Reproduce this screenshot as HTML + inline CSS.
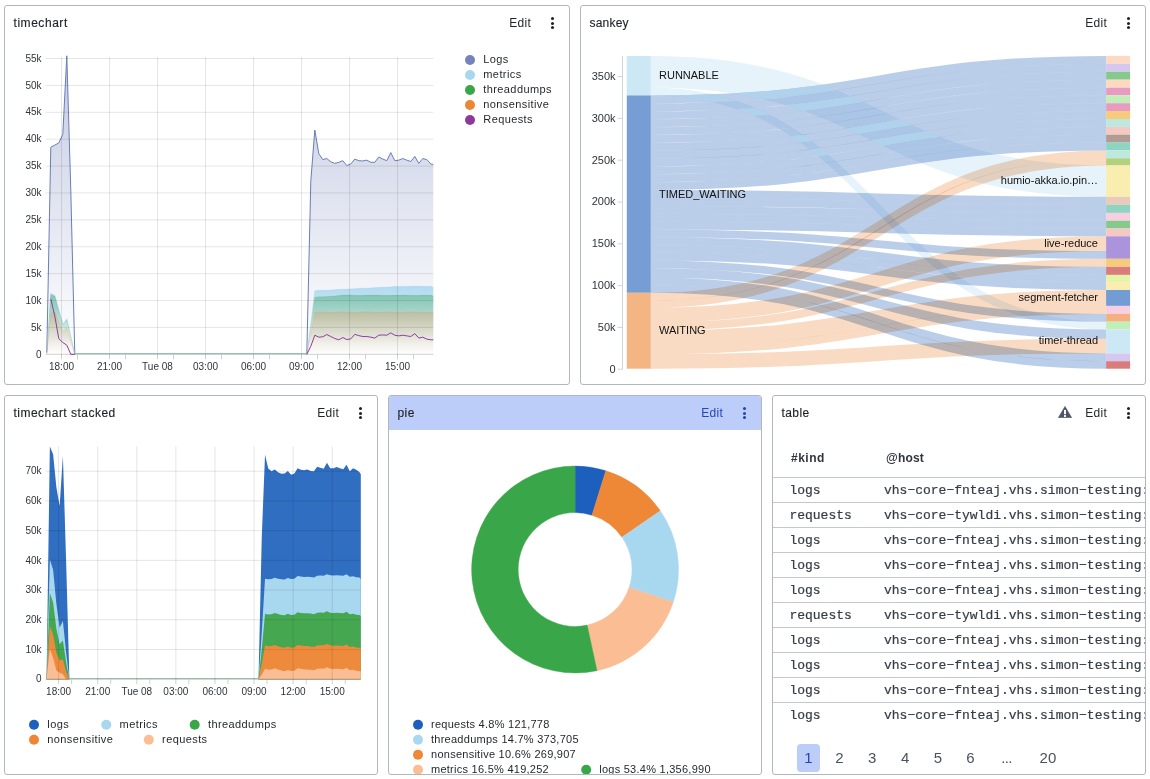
<!DOCTYPE html>
<html><head><meta charset="utf-8"><title>dashboard</title>
<style>
html,body{margin:0;padding:0;background:#fff;}
body{width:1150px;height:779px;position:relative;overflow:hidden;font-family:"Liberation Sans",sans-serif;color:#1f2329;}
.panel{position:absolute;box-sizing:border-box;border:1px solid #b2b7bf;border-radius:3px;background:#fff;overflow:hidden;}
.hdr{position:absolute;left:0;top:0;right:0;height:34px;}
.hdr.sel{background:#bccdfa;}
.title{position:absolute;left:8.5px;top:9px;font-size:12px;line-height:16px;letter-spacing:0.55px;color:#1f2329;white-space:nowrap;-webkit-text-stroke:0.15px #1f2329;}
.edit{position:absolute;right:37.8px;top:9px;font-size:12px;line-height:16px;letter-spacing:0.3px;color:#1f2329;}
.sel .edit{color:#2743b8;}
.dots{position:absolute;right:15.5px;top:11px;width:3px;}
.dots i{display:block;width:3px;height:3px;border-radius:50%;background:#1f2329;margin-bottom:1.5px;}
.sel .dots i{background:#2743b8;}
.warn{position:absolute;right:73px;top:10.4px;}
svg.main{position:absolute;left:0;top:0;}
.ax{font-size:10px;fill:#2f343c;font-family:"Liberation Sans",sans-serif;}
.ax11{font-size:11px;fill:#2f343c;font-family:"Liberation Sans",sans-serif;}
.lg{font-size:11px;fill:#1f2329;letter-spacing:0.4px;font-family:"Liberation Sans",sans-serif;}
.sk{font-size:11px;fill:#111;font-family:"Liberation Sans",sans-serif;}
.th{position:absolute;top:451px;font-size:12px;font-weight:700;line-height:14px;color:#30363f;letter-spacing:0.2px;}
.tr{position:absolute;left:773px;width:372px;height:25px;border-top:1px solid #c3c7ce;box-sizing:border-box;font-family:"Liberation Mono",monospace;font-size:13px;color:#353c47;white-space:nowrap;overflow:hidden;}
.tr span{position:absolute;top:4.8px;line-height:15px;-webkit-text-stroke:0.2px #353c47;}
.c1{left:16.4px;} .c2{left:111px;}
.pg{position:absolute;top:746px;width:30px;text-align:center;font-size:15px;line-height:24px;color:#4a5260;}
.pg.act{left:797px;top:744px;width:23px;height:28px;line-height:28px;background:#bccdfa;border-radius:4px;color:#2743b8;}
</style></head><body>
<div class="panel" style="left:4px;top:5px;width:566px;height:380px"><div class="hdr "><span class="title" style="letter-spacing:0.55px">timechart</span><span class="edit">Edit</span><span class="dots"><i></i><i></i><i></i></span></div></div>
<div class="panel" style="left:580px;top:5px;width:566px;height:380px"><div class="hdr "><span class="title" style="letter-spacing:0.2px">sankey</span><span class="edit">Edit</span><span class="dots"><i></i><i></i><i></i></span></div></div>
<div class="panel" style="left:4px;top:395px;width:374px;height:380px"><div class="hdr "><span class="title" style="letter-spacing:0.48px">timechart stacked</span><span class="edit">Edit</span><span class="dots"><i></i><i></i><i></i></span></div></div>
<div class="panel" style="left:388px;top:395px;width:374px;height:380px"><div class="hdr sel"><span class="title" style="letter-spacing:0.4px">pie</span><span class="edit">Edit</span><span class="dots"><i></i><i></i><i></i></span></div></div>
<div class="panel" style="left:772px;top:395px;width:374px;height:380px"><div class="hdr "><span class="title" style="letter-spacing:0.4px">table</span><svg class="warn" width="14" height="12" viewBox="0 0 14 12"><path d="M7 0.3 L13.8 11.8 L0.2 11.8 Z" fill="#4d5565" stroke="#4d5565" stroke-width="0.4" stroke-linejoin="round"/><rect x="6" y="3.9" width="2" height="4.3" fill="#fff"/><rect x="6" y="9.1" width="2" height="1.8" fill="#fff"/></svg><span class="edit">Edit</span><span class="dots"><i></i><i></i><i></i></span></div></div>
<span class="th" style="left:791px;letter-spacing:0.5px">#kind</span><span class="th" style="left:886px">@host</span>
<div class="tr" style="top:477px"><span class="c1">logs</span><span class="c2">vhs−core−fnteaj.vhs.simon−testing:</span></div>
<div class="tr" style="top:502px"><span class="c1">requests</span><span class="c2">vhs−core−tywldi.vhs.simon−testing:</span></div>
<div class="tr" style="top:527px"><span class="c1">logs</span><span class="c2">vhs−core−fnteaj.vhs.simon−testing:</span></div>
<div class="tr" style="top:552px"><span class="c1">logs</span><span class="c2">vhs−core−fnteaj.vhs.simon−testing:</span></div>
<div class="tr" style="top:577px"><span class="c1">logs</span><span class="c2">vhs−core−fnteaj.vhs.simon−testing:</span></div>
<div class="tr" style="top:602px"><span class="c1">requests</span><span class="c2">vhs−core−tywldi.vhs.simon−testing:</span></div>
<div class="tr" style="top:627px"><span class="c1">logs</span><span class="c2">vhs−core−fnteaj.vhs.simon−testing:</span></div>
<div class="tr" style="top:652px"><span class="c1">logs</span><span class="c2">vhs−core−fnteaj.vhs.simon−testing:</span></div>
<div class="tr" style="top:677px"><span class="c1">logs</span><span class="c2">vhs−core−fnteaj.vhs.simon−testing:</span></div>
<div class="tr" style="top:702px"><span class="c1">logs</span><span class="c2">vhs−core−fnteaj.vhs.simon−testing:</span></div>
<span class="pg act">1</span>
<span class="pg" style="left:824.5px">2</span>
<span class="pg" style="left:857.1px">3</span>
<span class="pg" style="left:890.2px">4</span>
<span class="pg" style="left:922.8px">5</span>
<span class="pg" style="left:955.5px">6</span>
<span class="pg" style="left:991.5px"><span style="letter-spacing:-0.7px">...</span></span>
<span class="pg" style="left:1032.9px">20</span>
<svg class="main" width="1150" height="779" viewBox="0 0 1150 779">
<defs>
<linearGradient id="g1logs" gradientUnits="userSpaceOnUse" x1="0" x2="0" y1="55.82" y2="354.3"><stop offset="0" stop-color="#6b7db8" stop-opacity="0.4"/><stop offset="1" stop-color="#6b7db8" stop-opacity="0.0"/></linearGradient><linearGradient id="g1met" gradientUnits="userSpaceOnUse" x1="0" x2="0" y1="286.13" y2="354.3"><stop offset="0" stop-color="#a5d6f0" stop-opacity="0.85"/><stop offset="0.3" stop-color="#a5d6f0" stop-opacity="0.527"/><stop offset="0.6" stop-color="#a5d6f0" stop-opacity="0.221"/><stop offset="0.85" stop-color="#a5d6f0" stop-opacity="0.051"/><stop offset="1" stop-color="#a5d6f0" stop-opacity="0.0"/></linearGradient><linearGradient id="g1thr" gradientUnits="userSpaceOnUse" x1="0" x2="0" y1="294.6" y2="354.3"><stop offset="0" stop-color="#3fa868" stop-opacity="0.46"/><stop offset="0.3" stop-color="#3fa868" stop-opacity="0.285"/><stop offset="0.6" stop-color="#3fa868" stop-opacity="0.120"/><stop offset="0.85" stop-color="#3fa868" stop-opacity="0.028"/><stop offset="1" stop-color="#3fa868" stop-opacity="0.0"/></linearGradient><linearGradient id="g1non" gradientUnits="userSpaceOnUse" x1="0" x2="0" y1="311.81" y2="354.3"><stop offset="0" stop-color="#ee8a3c" stop-opacity="0.3"/><stop offset="1" stop-color="#ee8a3c" stop-opacity="0.0"/></linearGradient><linearGradient id="g1req" gradientUnits="userSpaceOnUse" x1="0" x2="0" y1="298.91" y2="354.3"><stop offset="0" stop-color="#8e3f9e" stop-opacity="0.0"/><stop offset="0.3" stop-color="#8e3f9e" stop-opacity="0.000"/><stop offset="0.6" stop-color="#8e3f9e" stop-opacity="0.000"/><stop offset="0.85" stop-color="#8e3f9e" stop-opacity="0.000"/><stop offset="1" stop-color="#8e3f9e" stop-opacity="0.0"/></linearGradient><mask id="mR" maskUnits="userSpaceOnUse" x="640" y="40" width="480" height="340"><path d="M650.8,71.77 C878.45,71.77 878.45,181.15 1106.1,181.15" fill="none" stroke="#fff" stroke-width="31.42"/><path d="M650.8,91.47 C878.45,91.47 878.45,325.6 1106.1,325.6" fill="none" stroke="#fff" stroke-width="7.83"/></mask>
<clipPath id="cp4"><rect x="389" y="396" width="372" height="378"/></clipPath>
</defs>
<g id="chart1">
<text x="41.5" y="357.5" text-anchor="end" class="ax">0</text>
<text x="41.5" y="330.61" text-anchor="end" class="ax">5k</text>
<text x="41.5" y="303.72" text-anchor="end" class="ax">10k</text>
<text x="41.5" y="276.83" text-anchor="end" class="ax">15k</text>
<text x="41.5" y="249.94" text-anchor="end" class="ax">20k</text>
<text x="41.5" y="223.05" text-anchor="end" class="ax">25k</text>
<text x="41.5" y="196.16" text-anchor="end" class="ax">30k</text>
<text x="41.5" y="169.27" text-anchor="end" class="ax">35k</text>
<text x="41.5" y="142.38" text-anchor="end" class="ax">40k</text>
<text x="41.5" y="115.49" text-anchor="end" class="ax">45k</text>
<text x="41.5" y="88.6" text-anchor="end" class="ax">50k</text>
<text x="41.5" y="61.71" text-anchor="end" class="ax">55k</text>
<text x="61.5" y="370" text-anchor="middle" class="ax">18:00</text>
<text x="109.5" y="370" text-anchor="middle" class="ax">21:00</text>
<text x="157.5" y="370" text-anchor="middle" class="ax">Tue 08</text>
<text x="205.5" y="370" text-anchor="middle" class="ax">03:00</text>
<text x="253.5" y="370" text-anchor="middle" class="ax">06:00</text>
<text x="301.5" y="370" text-anchor="middle" class="ax">09:00</text>
<text x="349.5" y="370" text-anchor="middle" class="ax">12:00</text>
<text x="397.5" y="370" text-anchor="middle" class="ax">15:00</text>
<polygon points="46.8,354.3 46.8,352.69 50.8,147.25 54.8,145.1 58.8,142.94 62.8,134.34 66.8,55.82 70.8,190.81 74.8,354.3 78.8,354.3 82.8,354.3 86.8,354.3 90.8,354.3 94.8,354.3 98.8,354.3 102.8,354.3 106.8,354.3 110.8,354.3 114.8,354.3 118.8,354.3 122.8,354.3 126.8,354.3 130.8,354.3 134.8,354.3 138.8,354.3 142.8,354.3 146.8,354.3 150.8,354.3 154.8,354.3 158.8,354.3 162.8,354.3 166.8,354.3 170.8,354.3 174.8,354.3 178.8,354.3 182.8,354.3 186.8,354.3 190.8,354.3 194.8,354.3 198.8,354.3 202.8,354.3 206.8,354.3 210.8,354.3 214.8,354.3 218.8,354.3 222.8,354.3 226.8,354.3 230.8,354.3 234.8,354.3 238.8,354.3 242.8,354.3 246.8,354.3 250.8,354.3 254.8,354.3 258.8,354.3 262.8,354.3 266.8,354.3 270.8,354.3 274.8,354.3 278.8,354.3 282.8,354.3 286.8,354.3 290.8,354.3 294.8,354.3 298.8,354.3 302.8,354.3 306.8,354.3 310.8,181.13 314.8,130.04 318.8,153.7 322.8,159.62 326.8,158.54 330.8,161.77 334.8,163.38 338.8,162.31 342.8,160.69 346.8,165.53 350.8,163.92 354.8,159.08 358.8,160.69 362.8,160.96 366.8,160.15 370.8,162.31 374.8,162.31 378.8,156.93 382.8,159.08 386.8,160.69 390.8,152.62 394.8,160.69 398.8,160.15 402.8,158.54 406.8,160.15 410.8,161.5 414.8,156.39 418.8,163.38 422.8,158.54 426.8,159.62 430.8,163.92 433.3,164.46 433.3,354.3" fill="url(#g1logs)"/>
<polyline points="46.8,352.69 50.8,147.25 54.8,145.1 58.8,142.94 62.8,134.34 66.8,55.82 70.8,190.81 74.8,354.3" fill="none" stroke="#6b7db8" stroke-opacity="1" stroke-width="1" stroke-linejoin="round"/>
<polyline points="306.8,354.3 310.8,181.13 314.8,130.04 318.8,153.7 322.8,159.62 326.8,158.54 330.8,161.77 334.8,163.38 338.8,162.31 342.8,160.69 346.8,165.53 350.8,163.92 354.8,159.08 358.8,160.69 362.8,160.96 366.8,160.15 370.8,162.31 374.8,162.31 378.8,156.93 382.8,159.08 386.8,160.69 390.8,152.62 394.8,160.69 398.8,160.15 402.8,158.54 406.8,160.15 410.8,161.5 414.8,156.39 418.8,163.38 422.8,158.54 426.8,159.62 430.8,163.92 433.3,164.46" fill="none" stroke="#6b7db8" stroke-opacity="1" stroke-width="1" stroke-linejoin="round"/>
<polygon points="46.8,354.3 46.8,353.76 50.8,293.53 54.8,295.14 58.8,309.66 62.8,324.18 66.8,318.81 70.8,336.55 74.8,354.3 78.8,354.3 82.8,354.3 86.8,354.3 90.8,354.3 94.8,354.3 98.8,354.3 102.8,354.3 106.8,354.3 110.8,354.3 114.8,354.3 118.8,354.3 122.8,354.3 126.8,354.3 130.8,354.3 134.8,354.3 138.8,354.3 142.8,354.3 146.8,354.3 150.8,354.3 154.8,354.3 158.8,354.3 162.8,354.3 166.8,354.3 170.8,354.3 174.8,354.3 178.8,354.3 182.8,354.3 186.8,354.3 190.8,354.3 194.8,354.3 198.8,354.3 202.8,354.3 206.8,354.3 210.8,354.3 214.8,354.3 218.8,354.3 222.8,354.3 226.8,354.3 230.8,354.3 234.8,354.3 238.8,354.3 242.8,354.3 246.8,354.3 250.8,354.3 254.8,354.3 258.8,354.3 262.8,354.3 266.8,354.3 270.8,354.3 274.8,354.3 278.8,354.3 282.8,354.3 286.8,354.3 290.8,354.3 294.8,354.3 298.8,354.3 302.8,354.3 306.8,354.3 310.8,324.72 314.8,290.84 318.8,290.48 322.8,290.35 326.8,290.34 330.8,290.16 334.8,289.78 338.8,289.45 342.8,289.35 346.8,289.33 350.8,289.12 354.8,288.72 358.8,288.43 362.8,288.36 366.8,288.33 370.8,288.07 374.8,287.67 378.8,287.41 382.8,287.37 386.8,287.31 390.8,287.01 394.8,286.62 398.8,286.4 402.8,286.38 406.8,286.43 410.8,286.3 414.8,286.13 418.8,286.16 422.8,286.35 426.8,286.42 430.8,286.27 433.3,287.61 433.3,354.3" fill="url(#g1met)"/>
<polyline points="46.8,353.76 50.8,293.53 54.8,295.14 58.8,309.66 62.8,324.18 66.8,318.81 70.8,336.55 74.8,354.3" fill="none" stroke="#a5d6f0" stroke-opacity="0.5" stroke-width="1" stroke-linejoin="round"/>
<polyline points="306.8,354.3 310.8,324.72 314.8,290.84 318.8,290.48 322.8,290.35 326.8,290.34 330.8,290.16 334.8,289.78 338.8,289.45 342.8,289.35 346.8,289.33 350.8,289.12 354.8,288.72 358.8,288.43 362.8,288.36 366.8,288.33 370.8,288.07 374.8,287.67 378.8,287.41 382.8,287.37 386.8,287.31 390.8,287.01 394.8,286.62 398.8,286.4 402.8,286.38 406.8,286.43 410.8,286.3 414.8,286.13 418.8,286.16 422.8,286.35 426.8,286.42 430.8,286.27 433.3,287.61" fill="none" stroke="#a5d6f0" stroke-opacity="0.5" stroke-width="1" stroke-linejoin="round"/>
<polygon points="46.8,354.3 46.8,352.15 50.8,294.6 54.8,296.22 58.8,310.74 62.8,325.26 66.8,319.88 70.8,337.09 74.8,354.3 78.8,354.3 82.8,354.3 86.8,354.3 90.8,354.3 94.8,354.3 98.8,354.3 102.8,354.3 106.8,354.3 110.8,354.3 114.8,354.3 118.8,354.3 122.8,354.3 126.8,354.3 130.8,354.3 134.8,354.3 138.8,354.3 142.8,354.3 146.8,354.3 150.8,354.3 154.8,354.3 158.8,354.3 162.8,354.3 166.8,354.3 170.8,354.3 174.8,354.3 178.8,354.3 182.8,354.3 186.8,354.3 190.8,354.3 194.8,354.3 198.8,354.3 202.8,354.3 206.8,354.3 210.8,354.3 214.8,354.3 218.8,354.3 222.8,354.3 226.8,354.3 230.8,354.3 234.8,354.3 238.8,354.3 242.8,354.3 246.8,354.3 250.8,354.3 254.8,354.3 258.8,354.3 262.8,354.3 266.8,354.3 270.8,354.3 274.8,354.3 278.8,354.3 282.8,354.3 286.8,354.3 290.8,354.3 294.8,354.3 298.8,354.3 302.8,354.3 306.8,354.3 310.8,327.41 314.8,297.16 318.8,296.84 322.8,296.65 326.8,296.49 330.8,296.27 334.8,295.92 338.8,295.49 342.8,295.08 346.8,294.99 350.8,295.09 354.8,295.23 358.8,295.3 362.8,295.25 366.8,295.12 370.8,295 374.8,294.99 378.8,295.09 382.8,295.23 386.8,295.3 390.8,295.25 394.8,295.12 398.8,295 402.8,294.99 406.8,295.1 410.8,295.23 414.8,295.3 418.8,295.25 422.8,295.12 426.8,295 430.8,294.99 433.3,295.95 433.3,354.3" fill="url(#g1thr)"/>
<polyline points="46.8,352.15 50.8,294.6 54.8,296.22 58.8,310.74 62.8,325.26 66.8,319.88 70.8,337.09 74.8,354.3" fill="none" stroke="#3fa84f" stroke-opacity="0.15" stroke-width="1" stroke-linejoin="round"/>
<polyline points="306.8,354.3 310.8,327.41 314.8,297.16 318.8,296.84 322.8,296.65 326.8,296.49 330.8,296.27 334.8,295.92 338.8,295.49 342.8,295.08 346.8,294.99 350.8,295.09 354.8,295.23 358.8,295.3 362.8,295.25 366.8,295.12 370.8,295 374.8,294.99 378.8,295.09 382.8,295.23 386.8,295.3 390.8,295.25 394.8,295.12 398.8,295 402.8,294.99 406.8,295.1 410.8,295.23 414.8,295.3 418.8,295.25 422.8,295.12 426.8,295 430.8,294.99 433.3,295.95" fill="none" stroke="#3fa84f" stroke-opacity="0.15" stroke-width="1" stroke-linejoin="round"/>
<polygon points="46.8,354.3 46.8,353.76 50.8,313.43 54.8,311.81 58.8,322.03 62.8,331.71 66.8,327.95 70.8,341.39 74.8,354.3 78.8,354.3 82.8,354.3 86.8,354.3 90.8,354.3 94.8,354.3 98.8,354.3 102.8,354.3 106.8,354.3 110.8,354.3 114.8,354.3 118.8,354.3 122.8,354.3 126.8,354.3 130.8,354.3 134.8,354.3 138.8,354.3 142.8,354.3 146.8,354.3 150.8,354.3 154.8,354.3 158.8,354.3 162.8,354.3 166.8,354.3 170.8,354.3 174.8,354.3 178.8,354.3 182.8,354.3 186.8,354.3 190.8,354.3 194.8,354.3 198.8,354.3 202.8,354.3 206.8,354.3 210.8,354.3 214.8,354.3 218.8,354.3 222.8,354.3 226.8,354.3 230.8,354.3 234.8,354.3 238.8,354.3 242.8,354.3 246.8,354.3 250.8,354.3 254.8,354.3 258.8,354.3 262.8,354.3 266.8,354.3 270.8,354.3 274.8,354.3 278.8,354.3 282.8,354.3 286.8,354.3 290.8,354.3 294.8,354.3 298.8,354.3 302.8,354.3 306.8,354.3 310.8,334.94 314.8,312.08 318.8,311.89 322.8,311.91 326.8,312.12 330.8,312.29 334.8,312.23 338.8,312.02 342.8,311.87 346.8,311.96 350.8,312.18 354.8,312.3 358.8,312.18 362.8,311.96 366.8,311.87 370.8,312.02 374.8,312.24 378.8,312.29 382.8,312.11 386.8,311.91 390.8,311.89 394.8,312.08 398.8,312.28 402.8,312.26 406.8,312.05 410.8,311.88 414.8,311.93 418.8,312.15 422.8,312.3 426.8,312.21 430.8,311.98 433.3,312.89 433.3,354.3" fill="url(#g1non)"/>
<polyline points="46.8,353.76 50.8,313.43 54.8,311.81 58.8,322.03 62.8,331.71 66.8,327.95 70.8,341.39 74.8,354.3" fill="none" stroke="#ee8a3c" stroke-opacity="0.2" stroke-width="1" stroke-linejoin="round"/>
<polyline points="306.8,354.3 310.8,334.94 314.8,312.08 318.8,311.89 322.8,311.91 326.8,312.12 330.8,312.29 334.8,312.23 338.8,312.02 342.8,311.87 346.8,311.96 350.8,312.18 354.8,312.3 358.8,312.18 362.8,311.96 366.8,311.87 370.8,312.02 374.8,312.24 378.8,312.29 382.8,312.11 386.8,311.91 390.8,311.89 394.8,312.08 398.8,312.28 402.8,312.26 406.8,312.05 410.8,311.88 414.8,311.93 418.8,312.15 422.8,312.3 426.8,312.21 430.8,311.98 433.3,312.89" fill="none" stroke="#ee8a3c" stroke-opacity="0.2" stroke-width="1" stroke-linejoin="round"/>
<polyline points="50.8,298.91 54.8,316.12 58.8,338.7 62.8,342.47 66.8,345.16 70.8,354.3 74.8,354.3" fill="none" stroke="#8e3f9e" stroke-width="1" stroke-linejoin="round"/>
<polyline points="306.8,354.3 310.8,346.23 314.8,335.21 318.8,337.17 322.8,336.78 326.8,334.56 330.8,336.52 334.8,338.48 338.8,339.78 342.8,337.56 346.8,339.52 350.8,338.87 354.8,334.3 358.8,335.61 362.8,336.52 366.8,336.52 370.8,337.17 374.8,338.08 378.8,335.21 382.8,334.95 386.8,335.21 390.8,332.87 394.8,335.21 398.8,335.87 402.8,335.21 406.8,335.87 410.8,336.52 414.8,333.65 418.8,338.08 422.8,337.17 426.8,339.13 430.8,339.78 433.3,339.78" fill="none" stroke="#8e3f9e" stroke-width="1" stroke-linejoin="round"/>
<line x1="45.5" x2="433.3" y1="354.3" y2="354.3" stroke="#000" stroke-opacity="0.19" stroke-width="1"/>
<line x1="45.5" x2="433.3" y1="327.41" y2="327.41" stroke="#000" stroke-opacity="0.1" stroke-width="1"/>
<line x1="45.5" x2="433.3" y1="300.52" y2="300.52" stroke="#000" stroke-opacity="0.1" stroke-width="1"/>
<line x1="45.5" x2="433.3" y1="273.63" y2="273.63" stroke="#000" stroke-opacity="0.1" stroke-width="1"/>
<line x1="45.5" x2="433.3" y1="246.74" y2="246.74" stroke="#000" stroke-opacity="0.1" stroke-width="1"/>
<line x1="45.5" x2="433.3" y1="219.85" y2="219.85" stroke="#000" stroke-opacity="0.1" stroke-width="1"/>
<line x1="45.5" x2="433.3" y1="192.96" y2="192.96" stroke="#000" stroke-opacity="0.1" stroke-width="1"/>
<line x1="45.5" x2="433.3" y1="166.07" y2="166.07" stroke="#000" stroke-opacity="0.1" stroke-width="1"/>
<line x1="45.5" x2="433.3" y1="139.18" y2="139.18" stroke="#000" stroke-opacity="0.1" stroke-width="1"/>
<line x1="45.5" x2="433.3" y1="112.29" y2="112.29" stroke="#000" stroke-opacity="0.1" stroke-width="1"/>
<line x1="45.5" x2="433.3" y1="85.4" y2="85.4" stroke="#000" stroke-opacity="0.1" stroke-width="1"/>
<line x1="45.5" x2="433.3" y1="58.51" y2="58.51" stroke="#000" stroke-opacity="0.1" stroke-width="1"/>
<line x1="61.5" x2="61.5" y1="56.8" y2="353.8" stroke="#000" stroke-opacity="0.1" stroke-width="1"/>
<line x1="61.5" x2="61.5" y1="353.8" y2="359.3" stroke="#000" stroke-opacity="0.19" stroke-width="1"/>
<line x1="77.5" x2="77.5" y1="354.8" y2="359.3" stroke="#000" stroke-opacity="0.19" stroke-width="1"/>
<line x1="109.5" x2="109.5" y1="56.8" y2="353.8" stroke="#000" stroke-opacity="0.1" stroke-width="1"/>
<line x1="109.5" x2="109.5" y1="353.8" y2="359.3" stroke="#000" stroke-opacity="0.19" stroke-width="1"/>
<line x1="125.5" x2="125.5" y1="354.8" y2="359.3" stroke="#000" stroke-opacity="0.19" stroke-width="1"/>
<line x1="157.5" x2="157.5" y1="56.8" y2="353.8" stroke="#000" stroke-opacity="0.1" stroke-width="1"/>
<line x1="157.5" x2="157.5" y1="353.8" y2="359.3" stroke="#000" stroke-opacity="0.19" stroke-width="1"/>
<line x1="173.5" x2="173.5" y1="354.8" y2="359.3" stroke="#000" stroke-opacity="0.19" stroke-width="1"/>
<line x1="205.5" x2="205.5" y1="56.8" y2="353.8" stroke="#000" stroke-opacity="0.1" stroke-width="1"/>
<line x1="205.5" x2="205.5" y1="353.8" y2="359.3" stroke="#000" stroke-opacity="0.19" stroke-width="1"/>
<line x1="221.5" x2="221.5" y1="354.8" y2="359.3" stroke="#000" stroke-opacity="0.19" stroke-width="1"/>
<line x1="253.5" x2="253.5" y1="56.8" y2="353.8" stroke="#000" stroke-opacity="0.1" stroke-width="1"/>
<line x1="253.5" x2="253.5" y1="353.8" y2="359.3" stroke="#000" stroke-opacity="0.19" stroke-width="1"/>
<line x1="269.5" x2="269.5" y1="354.8" y2="359.3" stroke="#000" stroke-opacity="0.19" stroke-width="1"/>
<line x1="301.5" x2="301.5" y1="56.8" y2="353.8" stroke="#000" stroke-opacity="0.1" stroke-width="1"/>
<line x1="301.5" x2="301.5" y1="353.8" y2="359.3" stroke="#000" stroke-opacity="0.19" stroke-width="1"/>
<line x1="317.5" x2="317.5" y1="354.8" y2="359.3" stroke="#000" stroke-opacity="0.19" stroke-width="1"/>
<line x1="349.5" x2="349.5" y1="56.8" y2="353.8" stroke="#000" stroke-opacity="0.1" stroke-width="1"/>
<line x1="349.5" x2="349.5" y1="353.8" y2="359.3" stroke="#000" stroke-opacity="0.19" stroke-width="1"/>
<line x1="365.5" x2="365.5" y1="354.8" y2="359.3" stroke="#000" stroke-opacity="0.19" stroke-width="1"/>
<line x1="397.5" x2="397.5" y1="56.8" y2="353.8" stroke="#000" stroke-opacity="0.1" stroke-width="1"/>
<line x1="397.5" x2="397.5" y1="353.8" y2="359.3" stroke="#000" stroke-opacity="0.19" stroke-width="1"/>
<line x1="413.5" x2="413.5" y1="354.8" y2="359.3" stroke="#000" stroke-opacity="0.19" stroke-width="1"/>
<line x1="74.3" x2="307.3" y1="353.7" y2="353.7" stroke="#7db5a0" stroke-width="1"/>
<circle cx="470" cy="60" r="5" fill="#7383bb"/>
<text x="483.3" y="63" class="lg">Logs</text>
<circle cx="470" cy="75" r="5" fill="#a8d8f0"/>
<text x="483.3" y="78" class="lg">metrics</text>
<circle cx="470" cy="90" r="5" fill="#3aa648"/>
<text x="483.3" y="93" class="lg">threaddumps</text>
<circle cx="470" cy="105" r="5" fill="#ee8636"/>
<text x="483.3" y="108" class="lg">nonsensitive</text>
<circle cx="470" cy="120" r="5" fill="#8b3a9c"/>
<text x="483.3" y="123" class="lg">Requests</text>
</g>
<g id="sankey">
<line x1="622.5" x2="622.5" y1="56" y2="369.7" stroke="#d2d4db" stroke-width="1"/>
<line x1="617.5" x2="622.5" y1="369.2" y2="369.2" stroke="#d2d4db" stroke-width="1"/>
<text x="615.6" y="372.6" text-anchor="end" class="ax11">0</text>
<line x1="617.5" x2="622.5" y1="327.4" y2="327.4" stroke="#d2d4db" stroke-width="1"/>
<text x="615.6" y="330.8" text-anchor="end" class="ax11">50k</text>
<line x1="617.5" x2="622.5" y1="285.6" y2="285.6" stroke="#d2d4db" stroke-width="1"/>
<text x="615.6" y="289" text-anchor="end" class="ax11">100k</text>
<line x1="617.5" x2="622.5" y1="243.8" y2="243.8" stroke="#d2d4db" stroke-width="1"/>
<text x="615.6" y="247.2" text-anchor="end" class="ax11">150k</text>
<line x1="617.5" x2="622.5" y1="202" y2="202" stroke="#d2d4db" stroke-width="1"/>
<text x="615.6" y="205.4" text-anchor="end" class="ax11">200k</text>
<line x1="617.5" x2="622.5" y1="160.2" y2="160.2" stroke="#d2d4db" stroke-width="1"/>
<text x="615.6" y="163.6" text-anchor="end" class="ax11">250k</text>
<line x1="617.5" x2="622.5" y1="118.4" y2="118.4" stroke="#d2d4db" stroke-width="1"/>
<text x="615.6" y="121.8" text-anchor="end" class="ax11">300k</text>
<line x1="617.5" x2="622.5" y1="76.6" y2="76.6" stroke="#d2d4db" stroke-width="1"/>
<text x="615.6" y="80" text-anchor="end" class="ax11">350k</text>
<g style="isolation:isolate">
<path d="M650.8,99.35 C878.45,99.35 878.45,59.85 1106.1,59.85" fill="none" stroke="#779ed4" stroke-opacity="0.5" stroke-width="7.9" style="mix-blend-mode:multiply"/>
<path d="M650.8,107.31 C878.45,107.31 878.45,67.8 1106.1,67.8" fill="none" stroke="#779ed4" stroke-opacity="0.5" stroke-width="8" style="mix-blend-mode:multiply"/>
<path d="M650.8,115.26 C878.45,115.26 878.45,75.75 1106.1,75.75" fill="none" stroke="#779ed4" stroke-opacity="0.5" stroke-width="7.9" style="mix-blend-mode:multiply"/>
<path d="M650.8,123.21 C878.45,123.21 878.45,83.7 1106.1,83.7" fill="none" stroke="#779ed4" stroke-opacity="0.5" stroke-width="8" style="mix-blend-mode:multiply"/>
<path d="M650.8,131.02 C878.45,131.02 878.45,91.5 1106.1,91.5" fill="none" stroke="#779ed4" stroke-opacity="0.5" stroke-width="7.6" style="mix-blend-mode:multiply"/>
<path d="M650.8,138.77 C878.45,138.77 878.45,99.25 1106.1,99.25" fill="none" stroke="#779ed4" stroke-opacity="0.5" stroke-width="7.9" style="mix-blend-mode:multiply"/>
<path d="M650.8,146.63 C878.45,146.63 878.45,107.1 1106.1,107.1" fill="none" stroke="#779ed4" stroke-opacity="0.5" stroke-width="7.8" style="mix-blend-mode:multiply"/>
<path d="M650.8,154.53 C878.45,154.53 878.45,115 1106.1,115" fill="none" stroke="#779ed4" stroke-opacity="0.5" stroke-width="8" style="mix-blend-mode:multiply"/>
<path d="M650.8,162.48 C878.45,162.48 878.45,122.95 1106.1,122.95" fill="none" stroke="#779ed4" stroke-opacity="0.5" stroke-width="7.9" style="mix-blend-mode:multiply"/>
<path d="M650.8,170.34 C878.45,170.34 878.45,130.8 1106.1,130.8" fill="none" stroke="#779ed4" stroke-opacity="0.5" stroke-width="7.8" style="mix-blend-mode:multiply"/>
<path d="M650.8,178.19 C878.45,178.19 878.45,138.65 1106.1,138.65" fill="none" stroke="#779ed4" stroke-opacity="0.5" stroke-width="7.9" style="mix-blend-mode:multiply"/>
<path d="M650.8,186.05 C878.45,186.05 878.45,146.5 1106.1,146.5" fill="none" stroke="#779ed4" stroke-opacity="0.5" stroke-width="7.8" style="mix-blend-mode:multiply"/>
<path d="M650.8,296.72 C878.45,296.72 878.45,154.35 1106.1,154.35" fill="none" stroke="#f4b585" stroke-opacity="0.5" stroke-width="7.87" style="mix-blend-mode:multiply"/>
<path d="M650.8,304.22 C878.45,304.22 878.45,161.9 1106.1,161.9" fill="none" stroke="#f4b585" stroke-opacity="0.5" stroke-width="7.18" style="mix-blend-mode:multiply"/>
<path d="M650.8,71.77 C878.45,71.77 878.45,181.15 1106.1,181.15" fill="none" stroke="#cde8f5" stroke-opacity="0.5" stroke-width="31.42" style="mix-blend-mode:multiply"/>
<path d="M650.8,194 C878.45,194 878.45,200.85 1106.1,200.85" fill="none" stroke="#779ed4" stroke-opacity="0.5" stroke-width="8.1" style="mix-blend-mode:multiply"/>
<path d="M650.8,202.05 C878.45,202.05 878.45,208.9 1106.1,208.9" fill="none" stroke="#779ed4" stroke-opacity="0.5" stroke-width="8" style="mix-blend-mode:multiply"/>
<path d="M650.8,209.96 C878.45,209.96 878.45,216.8 1106.1,216.8" fill="none" stroke="#779ed4" stroke-opacity="0.5" stroke-width="7.8" style="mix-blend-mode:multiply"/>
<path d="M650.8,217.76 C878.45,217.76 878.45,224.6 1106.1,224.6" fill="none" stroke="#779ed4" stroke-opacity="0.5" stroke-width="7.8" style="mix-blend-mode:multiply"/>
<path d="M650.8,225.57 C878.45,225.57 878.45,232.4 1106.1,232.4" fill="none" stroke="#779ed4" stroke-opacity="0.5" stroke-width="7.8" style="mix-blend-mode:multiply"/>
<path d="M650.8,315.15 C878.45,315.15 878.45,243.7 1106.1,243.7" fill="none" stroke="#f4b585" stroke-opacity="0.5" stroke-width="14.75" style="mix-blend-mode:multiply"/>
<path d="M650.8,233.32 C878.45,233.32 878.45,254.95 1106.1,254.95" fill="none" stroke="#779ed4" stroke-opacity="0.5" stroke-width="7.7" style="mix-blend-mode:multiply"/>
<path d="M650.8,326.48 C878.45,326.48 878.45,262.8 1106.1,262.8" fill="none" stroke="#f4b585" stroke-opacity="0.5" stroke-width="7.97" style="mix-blend-mode:multiply"/>
<path d="M650.8,241.22 C878.45,241.22 878.45,270.85 1106.1,270.85" fill="none" stroke="#779ed4" stroke-opacity="0.5" stroke-width="8.1" style="mix-blend-mode:multiply"/>
<path d="M650.8,248.93 C878.45,248.93 878.45,278.55 1106.1,278.55" fill="none" stroke="#779ed4" stroke-opacity="0.5" stroke-width="7.3" style="mix-blend-mode:multiply"/>
<path d="M650.8,256.48 C878.45,256.48 878.45,286.1 1106.1,286.1" fill="none" stroke="#779ed4" stroke-opacity="0.5" stroke-width="7.8" style="mix-blend-mode:multiply"/>
<path d="M650.8,338.35 C878.45,338.35 878.45,297.95 1106.1,297.95" fill="none" stroke="#f4b585" stroke-opacity="0.5" stroke-width="15.85" style="mix-blend-mode:multiply"/>
<path d="M650.8,350.22 C878.45,350.22 878.45,309.9 1106.1,309.9" fill="none" stroke="#f4b585" stroke-opacity="0.5" stroke-width="7.97" style="mix-blend-mode:multiply"/>
<path d="M650.8,264.29 C878.45,264.29 878.45,317.8 1106.1,317.8" fill="none" stroke="#779ed4" stroke-opacity="0.5" stroke-width="7.8" style="mix-blend-mode:multiply"/>
<path d="M650.8,91.47 C878.45,91.47 878.45,325.6 1106.1,325.6" fill="none" stroke="#cde8f5" stroke-opacity="0.5" stroke-width="7.83" style="mix-blend-mode:multiply"/>
<path d="M650.8,272.84 C878.45,272.84 878.45,334.15 1106.1,334.15" fill="none" stroke="#779ed4" stroke-opacity="0.5" stroke-width="9.3" style="mix-blend-mode:multiply"/>
<path d="M650.8,361.45 C878.45,361.45 878.45,346.1 1106.1,346.1" fill="none" stroke="#f4b585" stroke-opacity="0.5" stroke-width="14.55" style="mix-blend-mode:multiply"/>
<path d="M650.8,281.39 C878.45,281.39 878.45,357.3 1106.1,357.3" fill="none" stroke="#779ed4" stroke-opacity="0.5" stroke-width="7.8" style="mix-blend-mode:multiply"/>
<path d="M650.8,289.05 C878.45,289.05 878.45,364.95 1106.1,364.95" fill="none" stroke="#779ed4" stroke-opacity="0.5" stroke-width="7.5" style="mix-blend-mode:multiply"/>
</g>
<g mask="url(#mR)">
<path d="M650.8,99.35 C878.45,99.35 878.45,59.85 1106.1,59.85" fill="none" stroke="#b0d2ec" stroke-width="7.9"/>
<path d="M650.8,115.26 C878.45,115.26 878.45,75.75 1106.1,75.75" fill="none" stroke="#b0d2ec" stroke-width="7.9"/>
<path d="M650.8,146.63 C878.45,146.63 878.45,107.1 1106.1,107.1" fill="none" stroke="#b0d2ec" stroke-width="7.8"/>
<path d="M650.8,162.48 C878.45,162.48 878.45,122.95 1106.1,122.95" fill="none" stroke="#b0d2ec" stroke-width="7.9"/>
</g>
<rect x="626.8" y="56.0" width="24.0" height="39.4" fill="#cde8f5"/>
<text x="659" y="78.9" class="sk">RUNNABLE</text>
<rect x="626.8" y="95.4" width="24.0" height="197.4" fill="#779ed4"/>
<text x="659" y="198.2" class="sk">TIMED_WAITING</text>
<rect x="626.8" y="292.8" width="24.0" height="75.9" fill="#f4b585"/>
<text x="659" y="333.95" class="sk">WAITING</text>
<rect x="1106.1" y="55.9" width="24.0" height="7.9" fill="#fcd9c0"/>
<rect x="1106.1" y="63.8" width="24.0" height="8" fill="#d5c8f0"/>
<rect x="1106.1" y="71.8" width="24.0" height="7.9" fill="#85c98d"/>
<rect x="1106.1" y="79.7" width="24.0" height="8" fill="#fcd9c0"/>
<rect x="1106.1" y="87.7" width="24.0" height="7.6" fill="#e79bc0"/>
<rect x="1106.1" y="95.3" width="24.0" height="7.9" fill="#c0f0b8"/>
<rect x="1106.1" y="103.2" width="24.0" height="7.8" fill="#e79bc0"/>
<rect x="1106.1" y="111.0" width="24.0" height="8" fill="#f6cc7c"/>
<rect x="1106.1" y="119.0" width="24.0" height="7.9" fill="#bce8de"/>
<rect x="1106.1" y="126.9" width="24.0" height="7.8" fill="#f4c9c4"/>
<rect x="1106.1" y="134.7" width="24.0" height="7.9" fill="#b09c92"/>
<rect x="1106.1" y="142.6" width="24.0" height="7.8" fill="#8dd5c0"/>
<rect x="1106.1" y="150.4" width="24.0" height="7.9" fill="#bce8de"/>
<rect x="1106.1" y="158.3" width="24.0" height="7.2" fill="#b3d17c"/>
<rect x="1106.1" y="165.5" width="24.0" height="31.3" fill="#faedb0"/>
<rect x="1106.1" y="196.8" width="24.0" height="8.1" fill="#e8cbbb"/>
<rect x="1106.1" y="204.9" width="24.0" height="8" fill="#8dd5c0"/>
<rect x="1106.1" y="212.9" width="24.0" height="7.8" fill="#f8cfe0"/>
<rect x="1106.1" y="220.7" width="24.0" height="7.8" fill="#85c98d"/>
<rect x="1106.1" y="228.5" width="24.0" height="7.8" fill="#f4c9c4"/>
<rect x="1106.1" y="236.3" width="24.0" height="22.5" fill="#ab94dc"/>
<rect x="1106.1" y="258.8" width="24.0" height="8" fill="#f6cc7c"/>
<rect x="1106.1" y="266.8" width="24.0" height="8.1" fill="#d97c7c"/>
<rect x="1106.1" y="274.9" width="24.0" height="7.3" fill="#e4f5a8"/>
<rect x="1106.1" y="282.2" width="24.0" height="7.8" fill="#faedb0"/>
<rect x="1106.1" y="290.0" width="24.0" height="15.9" fill="#739cd5"/>
<rect x="1106.1" y="305.9" width="24.0" height="8" fill="#f8cfe0"/>
<rect x="1106.1" y="313.9" width="24.0" height="7.8" fill="#f4b080"/>
<rect x="1106.1" y="321.7" width="24.0" height="7.8" fill="#c0f0b8"/>
<rect x="1106.1" y="329.5" width="24.0" height="23.9" fill="#cde8f5"/>
<rect x="1106.1" y="353.4" width="24.0" height="7.8" fill="#d5c8f0"/>
<rect x="1106.1" y="361.2" width="24.0" height="7.5" fill="#d97c7c"/>
<text x="1098" y="183.9" text-anchor="end" class="sk">humio-akka.io.pin…</text>
<text x="1098" y="246.9" text-anchor="end" class="sk">live-reduce</text>
<text x="1098" y="300.9" text-anchor="end" class="sk">segment-fetcher</text>
<text x="1098" y="344.09999999999997" text-anchor="end" class="sk">timer-thread</text>
</g>
<g id="chart3">
<text x="41.5" y="682.4" text-anchor="end" class="ax">0</text>
<text x="41.5" y="652.69" text-anchor="end" class="ax">10k</text>
<text x="41.5" y="622.98" text-anchor="end" class="ax">20k</text>
<text x="41.5" y="593.27" text-anchor="end" class="ax">30k</text>
<text x="41.5" y="563.56" text-anchor="end" class="ax">40k</text>
<text x="41.5" y="533.85" text-anchor="end" class="ax">50k</text>
<text x="41.5" y="504.14" text-anchor="end" class="ax">60k</text>
<text x="41.5" y="474.43" text-anchor="end" class="ax">70k</text>
<text x="58.6" y="695.2" text-anchor="middle" class="ax">18:00</text>
<text x="97.69" y="695.2" text-anchor="middle" class="ax">21:00</text>
<text x="136.78" y="695.2" text-anchor="middle" class="ax">Tue 08</text>
<text x="175.87" y="695.2" text-anchor="middle" class="ax">03:00</text>
<text x="214.96" y="695.2" text-anchor="middle" class="ax">06:00</text>
<text x="254.05" y="695.2" text-anchor="middle" class="ax">09:00</text>
<text x="293.14" y="695.2" text-anchor="middle" class="ax">12:00</text>
<text x="332.23" y="695.2" text-anchor="middle" class="ax">15:00</text>
<polygon points="46.6,679.2 46.6,676.23 49.86,446.4 53.12,454.3 56.38,487.27 59.64,505.99 62.9,456.08 66.16,562.44 69.42,679.2 72.68,679.2 75.94,679.2 79.2,679.2 82.46,679.2 85.72,679.2 88.98,679.2 92.24,679.2 95.5,679.2 98.76,679.2 102.02,679.2 105.28,679.2 108.54,679.2 111.8,679.2 115.06,679.2 118.32,679.2 121.58,679.2 124.84,679.2 128.1,679.2 131.36,679.2 134.62,679.2 137.88,679.2 141.14,679.2 144.4,679.2 147.66,679.2 150.92,679.2 154.18,679.2 157.44,679.2 160.7,679.2 163.96,679.2 167.22,679.2 170.48,679.2 173.74,679.2 177,679.2 180.26,679.2 183.52,679.2 186.78,679.2 190.04,679.2 193.3,679.2 196.56,679.2 199.82,679.2 203.08,679.2 206.34,679.2 209.6,679.2 212.86,679.2 216.12,679.2 219.38,679.2 222.64,679.2 225.9,679.2 229.16,679.2 232.42,679.2 235.68,679.2 238.94,679.2 242.2,679.2 245.46,679.2 248.72,679.2 251.98,679.2 255.24,679.2 258.5,679.2 261.76,537.19 265.02,454.82 268.28,468.49 271.54,471.37 274.8,469.58 278.06,472.31 281.32,473.86 284.58,473.44 287.84,470.96 291.1,474.71 294.36,473.51 297.62,468.24 300.88,469.66 304.14,470.13 307.4,469.54 310.66,470.97 313.92,471.37 317.18,466.75 320.44,467.76 323.7,468.68 326.96,462.73 330.22,468.29 333.48,468.28 336.74,467 340,468.22 343.26,469.24 346.52,464.8 349.78,471.22 353.04,468.16 356.3,469.76 359.56,472.28 360.8,474.35 360.8,679.2" fill="#2f6ec0"/>
<polygon points="46.6,679.2 46.6,677.12 49.86,559.47 53.12,569.87 56.38,604.03 59.64,627.5 62.9,620.97 66.16,652.76 69.42,679.2 72.68,679.2 75.94,679.2 79.2,679.2 82.46,679.2 85.72,679.2 88.98,679.2 92.24,679.2 95.5,679.2 98.76,679.2 102.02,679.2 105.28,679.2 108.54,679.2 111.8,679.2 115.06,679.2 118.32,679.2 121.58,679.2 124.84,679.2 128.1,679.2 131.36,679.2 134.62,679.2 137.88,679.2 141.14,679.2 144.4,679.2 147.66,679.2 150.92,679.2 154.18,679.2 157.44,679.2 160.7,679.2 163.96,679.2 167.22,679.2 170.48,679.2 173.74,679.2 177,679.2 180.26,679.2 183.52,679.2 186.78,679.2 190.04,679.2 193.3,679.2 196.56,679.2 199.82,679.2 203.08,679.2 206.34,679.2 209.6,679.2 212.86,679.2 216.12,679.2 219.38,679.2 222.64,679.2 225.9,679.2 229.16,679.2 232.42,679.2 235.68,679.2 238.94,679.2 242.2,679.2 245.46,679.2 248.72,679.2 251.98,679.2 255.24,679.2 258.5,679.2 261.76,632.85 265.02,578.71 268.28,579.31 271.54,578.92 274.8,577.72 278.06,578.68 281.32,579.33 284.58,579.51 287.84,577.92 291.1,578.99 294.36,578.69 297.62,576.09 300.88,576.62 304.14,576.94 307.4,576.8 310.66,577.03 313.92,577.43 317.18,575.79 320.44,575.6 323.7,575.64 326.96,574.14 330.22,575.25 333.48,575.53 336.74,575.15 340,575.47 343.26,575.75 346.52,574.13 349.78,576.69 353.04,576.3 356.3,577.31 359.56,577.45 360.8,579.23 360.8,679.2" fill="#a8d8f0"/>
<polygon points="46.6,679.2 46.6,677.42 49.86,593.04 53.12,602.55 56.38,628.69 59.64,644.14 62.9,640.58 66.16,662.56 69.42,679.2 72.68,679.2 75.94,679.2 79.2,679.2 82.46,679.2 85.72,679.2 88.98,679.2 92.24,679.2 95.5,679.2 98.76,679.2 102.02,679.2 105.28,679.2 108.54,679.2 111.8,679.2 115.06,679.2 118.32,679.2 121.58,679.2 124.84,679.2 128.1,679.2 131.36,679.2 134.62,679.2 137.88,679.2 141.14,679.2 144.4,679.2 147.66,679.2 150.92,679.2 154.18,679.2 157.44,679.2 160.7,679.2 163.96,679.2 167.22,679.2 170.48,679.2 173.74,679.2 177,679.2 180.26,679.2 183.52,679.2 186.78,679.2 190.04,679.2 193.3,679.2 196.56,679.2 199.82,679.2 203.08,679.2 206.34,679.2 209.6,679.2 212.86,679.2 216.12,679.2 219.38,679.2 222.64,679.2 225.9,679.2 229.16,679.2 232.42,679.2 235.68,679.2 238.94,679.2 242.2,679.2 245.46,679.2 248.72,679.2 251.98,679.2 255.24,679.2 258.5,679.2 261.76,649.19 265.02,613.77 268.28,614.57 271.54,614.25 274.8,613.06 278.06,614.11 281.32,614.97 284.58,615.33 287.84,613.8 291.1,614.88 294.36,614.7 297.62,612.32 300.88,613.01 304.14,613.37 307.4,613.24 310.66,613.62 313.92,614.24 317.18,612.74 320.44,612.58 323.7,612.65 326.96,611.31 330.22,612.64 333.48,613.04 336.74,612.67 340,612.97 343.26,613.31 346.52,611.79 349.78,614.34 353.04,613.84 356.3,614.81 359.56,615.04 360.8,616.07 360.8,679.2" fill="#45a851"/>
<polygon points="46.6,679.2 46.6,678.61 49.86,626.02 53.12,634.63 56.38,652.76 59.64,660.19 62.9,659.59 66.16,672.07 69.42,679.2 72.68,679.2 75.94,679.2 79.2,679.2 82.46,679.2 85.72,679.2 88.98,679.2 92.24,679.2 95.5,679.2 98.76,679.2 102.02,679.2 105.28,679.2 108.54,679.2 111.8,679.2 115.06,679.2 118.32,679.2 121.58,679.2 124.84,679.2 128.1,679.2 131.36,679.2 134.62,679.2 137.88,679.2 141.14,679.2 144.4,679.2 147.66,679.2 150.92,679.2 154.18,679.2 157.44,679.2 160.7,679.2 163.96,679.2 167.22,679.2 170.48,679.2 173.74,679.2 177,679.2 180.26,679.2 183.52,679.2 186.78,679.2 190.04,679.2 193.3,679.2 196.56,679.2 199.82,679.2 203.08,679.2 206.34,679.2 209.6,679.2 212.86,679.2 216.12,679.2 219.38,679.2 222.64,679.2 225.9,679.2 229.16,679.2 232.42,679.2 235.68,679.2 238.94,679.2 242.2,679.2 245.46,679.2 248.72,679.2 251.98,679.2 255.24,679.2 258.5,679.2 261.76,664.05 265.02,645.33 268.28,646.31 271.54,646.1 274.8,644.99 278.06,646.17 281.32,647.22 284.58,647.82 287.84,646.51 291.1,647.64 294.36,647.41 297.62,644.95 300.88,645.6 304.14,645.98 307.4,645.94 310.66,646.38 313.92,647 317.18,645.45 320.44,645.21 323.7,645.24 326.96,643.93 330.22,645.34 333.48,645.8 336.74,645.43 340,645.67 343.26,645.94 346.52,644.39 349.78,646.96 353.04,646.53 356.3,647.56 359.56,647.8 360.8,648.3 360.8,679.2" fill="#ee8a3c"/>
<polygon points="46.6,679.2 46.6,678.9 49.86,648.6 53.12,658.11 56.38,670.58 59.64,672.66 62.9,674.15 66.16,679.2 69.42,679.2 72.68,679.2 75.94,679.2 79.2,679.2 82.46,679.2 85.72,679.2 88.98,679.2 92.24,679.2 95.5,679.2 98.76,679.2 102.02,679.2 105.28,679.2 108.54,679.2 111.8,679.2 115.06,679.2 118.32,679.2 121.58,679.2 124.84,679.2 128.1,679.2 131.36,679.2 134.62,679.2 137.88,679.2 141.14,679.2 144.4,679.2 147.66,679.2 150.92,679.2 154.18,679.2 157.44,679.2 160.7,679.2 163.96,679.2 167.22,679.2 170.48,679.2 173.74,679.2 177,679.2 180.26,679.2 183.52,679.2 186.78,679.2 190.04,679.2 193.3,679.2 196.56,679.2 199.82,679.2 203.08,679.2 206.34,679.2 209.6,679.2 212.86,679.2 216.12,679.2 219.38,679.2 222.64,679.2 225.9,679.2 229.16,679.2 232.42,679.2 235.68,679.2 238.94,679.2 242.2,679.2 245.46,679.2 248.72,679.2 251.98,679.2 255.24,679.2 258.5,679.2 261.76,674.74 265.02,668.66 268.28,669.74 271.54,669.52 274.8,668.3 278.06,669.38 281.32,670.46 284.58,671.18 287.84,669.95 291.1,671.03 294.36,670.67 297.62,668.15 300.88,668.87 304.14,669.38 307.4,669.38 310.66,669.74 313.92,670.24 317.18,668.66 320.44,668.51 323.7,668.66 326.96,667.36 330.22,668.66 333.48,669.02 336.74,668.66 340,669.02 343.26,669.38 346.52,667.79 349.78,670.24 353.04,669.74 356.3,670.82 359.56,671.18 360.8,671.18 360.8,679.2" fill="#fbbd94"/>
<line x1="69.42" x2="258.5" y1="678.6" y2="678.6" stroke="#8fcaa6" stroke-width="1"/>
<line x1="45.5" x2="360.8" y1="679.2" y2="679.2" stroke="#000" stroke-opacity="0.19" stroke-width="1"/>
<line x1="45.5" x2="360.8" y1="649.49" y2="649.49" stroke="#000" stroke-opacity="0.1" stroke-width="1"/>
<line x1="45.5" x2="360.8" y1="619.78" y2="619.78" stroke="#000" stroke-opacity="0.1" stroke-width="1"/>
<line x1="45.5" x2="360.8" y1="590.07" y2="590.07" stroke="#000" stroke-opacity="0.1" stroke-width="1"/>
<line x1="45.5" x2="360.8" y1="560.36" y2="560.36" stroke="#000" stroke-opacity="0.1" stroke-width="1"/>
<line x1="45.5" x2="360.8" y1="530.65" y2="530.65" stroke="#000" stroke-opacity="0.1" stroke-width="1"/>
<line x1="45.5" x2="360.8" y1="500.94" y2="500.94" stroke="#000" stroke-opacity="0.1" stroke-width="1"/>
<line x1="45.5" x2="360.8" y1="471.23" y2="471.23" stroke="#000" stroke-opacity="0.1" stroke-width="1"/>
<line x1="58.6" x2="58.6" y1="446.4" y2="678.7" stroke="#000" stroke-opacity="0.1" stroke-width="1"/>
<line x1="58.6" x2="58.6" y1="678.7" y2="684.2" stroke="#000" stroke-opacity="0.19" stroke-width="1"/>
<line x1="71.63" x2="71.63" y1="679.7" y2="684.2" stroke="#000" stroke-opacity="0.19" stroke-width="1"/>
<line x1="97.69" x2="97.69" y1="446.4" y2="678.7" stroke="#000" stroke-opacity="0.1" stroke-width="1"/>
<line x1="97.69" x2="97.69" y1="678.7" y2="684.2" stroke="#000" stroke-opacity="0.19" stroke-width="1"/>
<line x1="110.72" x2="110.72" y1="679.7" y2="684.2" stroke="#000" stroke-opacity="0.19" stroke-width="1"/>
<line x1="136.78" x2="136.78" y1="446.4" y2="678.7" stroke="#000" stroke-opacity="0.1" stroke-width="1"/>
<line x1="136.78" x2="136.78" y1="678.7" y2="684.2" stroke="#000" stroke-opacity="0.19" stroke-width="1"/>
<line x1="149.81" x2="149.81" y1="679.7" y2="684.2" stroke="#000" stroke-opacity="0.19" stroke-width="1"/>
<line x1="175.87" x2="175.87" y1="446.4" y2="678.7" stroke="#000" stroke-opacity="0.1" stroke-width="1"/>
<line x1="175.87" x2="175.87" y1="678.7" y2="684.2" stroke="#000" stroke-opacity="0.19" stroke-width="1"/>
<line x1="188.9" x2="188.9" y1="679.7" y2="684.2" stroke="#000" stroke-opacity="0.19" stroke-width="1"/>
<line x1="214.96" x2="214.96" y1="446.4" y2="678.7" stroke="#000" stroke-opacity="0.1" stroke-width="1"/>
<line x1="214.96" x2="214.96" y1="678.7" y2="684.2" stroke="#000" stroke-opacity="0.19" stroke-width="1"/>
<line x1="227.99" x2="227.99" y1="679.7" y2="684.2" stroke="#000" stroke-opacity="0.19" stroke-width="1"/>
<line x1="254.05" x2="254.05" y1="446.4" y2="678.7" stroke="#000" stroke-opacity="0.1" stroke-width="1"/>
<line x1="254.05" x2="254.05" y1="678.7" y2="684.2" stroke="#000" stroke-opacity="0.19" stroke-width="1"/>
<line x1="267.08" x2="267.08" y1="679.7" y2="684.2" stroke="#000" stroke-opacity="0.19" stroke-width="1"/>
<line x1="293.14" x2="293.14" y1="446.4" y2="678.7" stroke="#000" stroke-opacity="0.1" stroke-width="1"/>
<line x1="293.14" x2="293.14" y1="678.7" y2="684.2" stroke="#000" stroke-opacity="0.19" stroke-width="1"/>
<line x1="306.17" x2="306.17" y1="679.7" y2="684.2" stroke="#000" stroke-opacity="0.19" stroke-width="1"/>
<line x1="332.23" x2="332.23" y1="446.4" y2="678.7" stroke="#000" stroke-opacity="0.1" stroke-width="1"/>
<line x1="332.23" x2="332.23" y1="678.7" y2="684.2" stroke="#000" stroke-opacity="0.19" stroke-width="1"/>
<line x1="345.26" x2="345.26" y1="679.7" y2="684.2" stroke="#000" stroke-opacity="0.19" stroke-width="1"/>
<circle cx="34" cy="724.7" r="5" fill="#1c5fbd"/>
<text x="47.3" y="728.0" class="lg">logs</text>
<circle cx="106.3" cy="724.7" r="5" fill="#a8d8f0"/>
<text x="119.6" y="728.0" class="lg">metrics</text>
<circle cx="194.7" cy="724.7" r="5" fill="#3aa648"/>
<text x="208.0" y="728.0" class="lg">threaddumps</text>
<circle cx="34" cy="739.8" r="5" fill="#ee8636"/>
<text x="47.3" y="743.0999999999999" class="lg">nonsensitive</text>
<circle cx="148.8" cy="739.8" r="5" fill="#fbbd94"/>
<text x="162.10000000000002" y="743.0999999999999" class="lg">requests</text>
</g>
<g id="pie" clip-path="url(#cp4)">
<path d="M575.1,466 A103.5,103.5 0 0 1 605.84,470.67 L592,515.17 A56.9,56.9 0 0 0 575.1,512.6 Z" fill="#1c5fbd" stroke="#1c5fbd" stroke-width="0.4"/>
<path d="M605.84,470.67 A103.5,103.5 0 0 1 660.34,510.79 L621.96,537.22 A56.9,56.9 0 0 0 592,515.17 Z" fill="#ee8736" stroke="#ee8736" stroke-width="0.4"/>
<path d="M660.34,510.79 A103.5,103.5 0 0 1 673.33,602.1 L629.1,587.42 A56.9,56.9 0 0 0 621.96,537.22 Z" fill="#a8d8f0" stroke="#a8d8f0" stroke-width="0.4"/>
<path d="M673.33,602.1 A103.5,103.5 0 0 1 597.04,670.65 L587.16,625.11 A56.9,56.9 0 0 0 629.1,587.42 Z" fill="#fbbd94" stroke="#fbbd94" stroke-width="0.4"/>
<path d="M597.04,670.65 A103.5,103.5 0 1 1 575.1,466 L575.1,512.6 A56.9,56.9 0 1 0 587.16,625.11 Z" fill="#3aa64a" stroke="#3aa64a" stroke-width="0.4"/>
<circle cx="418" cy="724.8" r="5" fill="#1c5fbd"/>
<text x="431" y="727.8" class="lg" style="letter-spacing:0.26px">requests 4.8% 121,778</text>
<circle cx="418" cy="739.8" r="5" fill="#a8d8f0"/>
<text x="431" y="742.8" class="lg" style="letter-spacing:0.26px">threaddumps 14.7% 373,705</text>
<circle cx="418" cy="754.8" r="5" fill="#ee8736"/>
<text x="431" y="757.8" class="lg" style="letter-spacing:0.26px">nonsensitive 10.6% 269,907</text>
<circle cx="418" cy="769.8" r="5" fill="#fbbd94"/>
<text x="431" y="772.8" class="lg" style="letter-spacing:0.26px">metrics 16.5% 419,252</text>
<circle cx="586.2" cy="769.8" r="5" fill="#3aa64a"/>
<text x="599.2" y="772.8" class="lg" style="letter-spacing:0.26px">logs 53.4% 1,356,990</text>
</g>
</svg>
</body></html>
